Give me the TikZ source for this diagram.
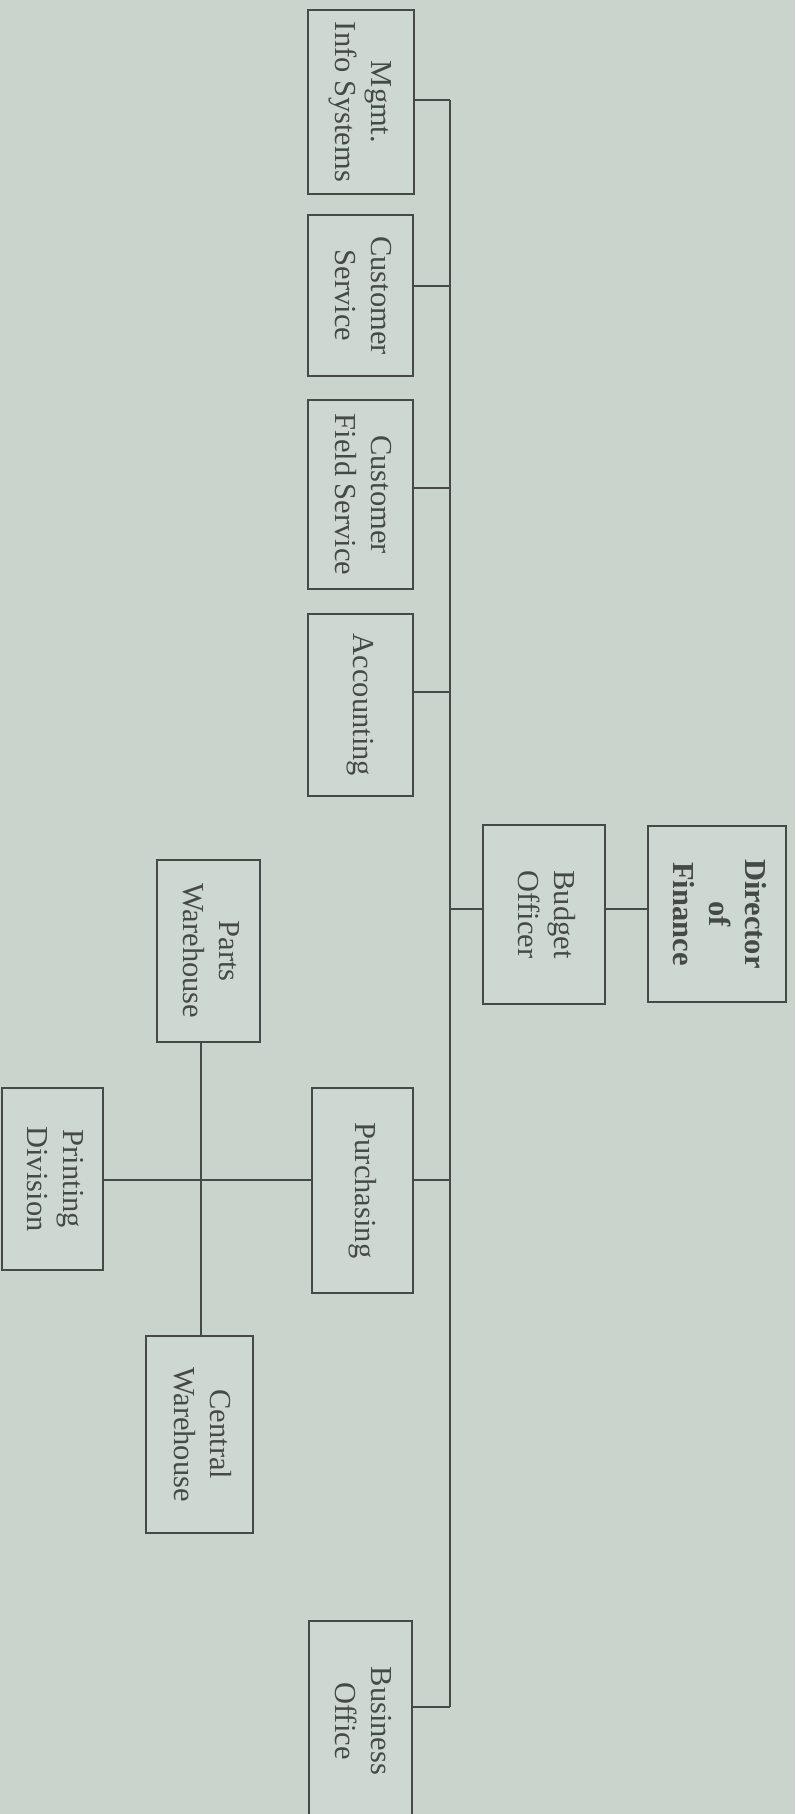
\documentclass[tikz,border=0pt]{standalone}
\usepackage{fontspec}
\setmainfont{Liberation Serif}
\definecolor{bg}{HTML}{C9D4CD}
\definecolor{boxfill}{HTML}{CED8D2}
\definecolor{ink}{HTML}{454A47}
\newcommand{\rtext}[1]{\rotatebox{-90}{\begin{tabular}{@{}c@{}}#1\end{tabular}}}
\begin{document}
\begin{tikzpicture}[x=1pt,y=-1pt,
  box/.style={draw=ink, line width=1.8pt, fill=boxfill, rectangle, inner sep=0pt,
    font=\fontsize{30.5}{36}\selectfont, text=ink},
  link/.style={draw=ink, line width=1.8pt}]
\useasboundingbox (0,0) rectangle (795,1814);
\fill[bg] (0,0) rectangle (795,1814);
\clip (0,0) rectangle (795,1814);
% nodes
\node[box, minimum width=106pt, minimum height=184pt] (mis) at (361,102) {\rtext{Mgmt.\\Info Systems}};
\node[box, minimum width=105pt, minimum height=161pt] (cs) at (360.5,295.5) {\rtext{Customer\\Service}};
\node[box, minimum width=105pt, minimum height=189pt] (cfs) at (360.5,494.5) {\rtext{Customer\\Field Service}};
\node[box, minimum width=105pt, minimum height=182pt] (acc) at (360.5,705) {\rtext{Accounting}};
\node[box, minimum width=122pt, minimum height=179pt] (bud) at (544,914.5) {\rtext{Budget\\Officer}};
\node[box, minimum width=138pt, minimum height=176pt] (dir) at (717,914) {\rtext{\bfseries Director\\\bfseries of\\\bfseries Finance}};
\node[box, minimum width=101pt, minimum height=205pt] (pur) at (362.5,1190.5) {\rtext{Purchasing}};
\node[box, minimum width=103pt, minimum height=182pt] (pw) at (208.5,951) {\rtext{Parts\\Warehouse}};
\node[box, minimum width=101pt, minimum height=182pt] (pd) at (52.5,1179) {\rtext{Printing\\Division}};
\node[box, minimum width=107pt, minimum height=197pt] (cw) at (199.5,1434.5) {\rtext{Central\\Warehouse}};
\node[box, minimum width=103pt, minimum height=200pt] (bo) at (360.5,1721) {\rtext{Business\\Office}};
% junctions on the trunk
\coordinate (j1) at (450,100);
\coordinate (j2) at (450,286);
\coordinate (j3) at (450,488);
\coordinate (j4) at (450,692);
\coordinate (j5) at (450,909);
\coordinate (j6) at (450,1180);
\coordinate (j7) at (450,1707);
\coordinate (jc) at (201,1180);
% trunk and branches
\draw[link] (j1) -- (j7);
\draw[link] (mis.east |- j1) -- (j1);
\draw[link] (cs.east |- j2) -- (j2);
\draw[link] (cfs.east |- j3) -- (j3);
\draw[link] (acc.east |- j4) -- (j4);
\draw[link] (bud.west |- j5) -- (j5);
\draw[link] (bud.east |- j5) -- (dir.west |- j5);
\draw[link] (pur.east |- j6) -- (j6);
\draw[link] (bo.east |- j7) -- (j7);
\draw[link] (pd.east |- jc) -- (pur.west |- jc);
\draw[link] (pw.south -| jc) -- (cw.north -| jc);
\end{tikzpicture}
\end{document}
